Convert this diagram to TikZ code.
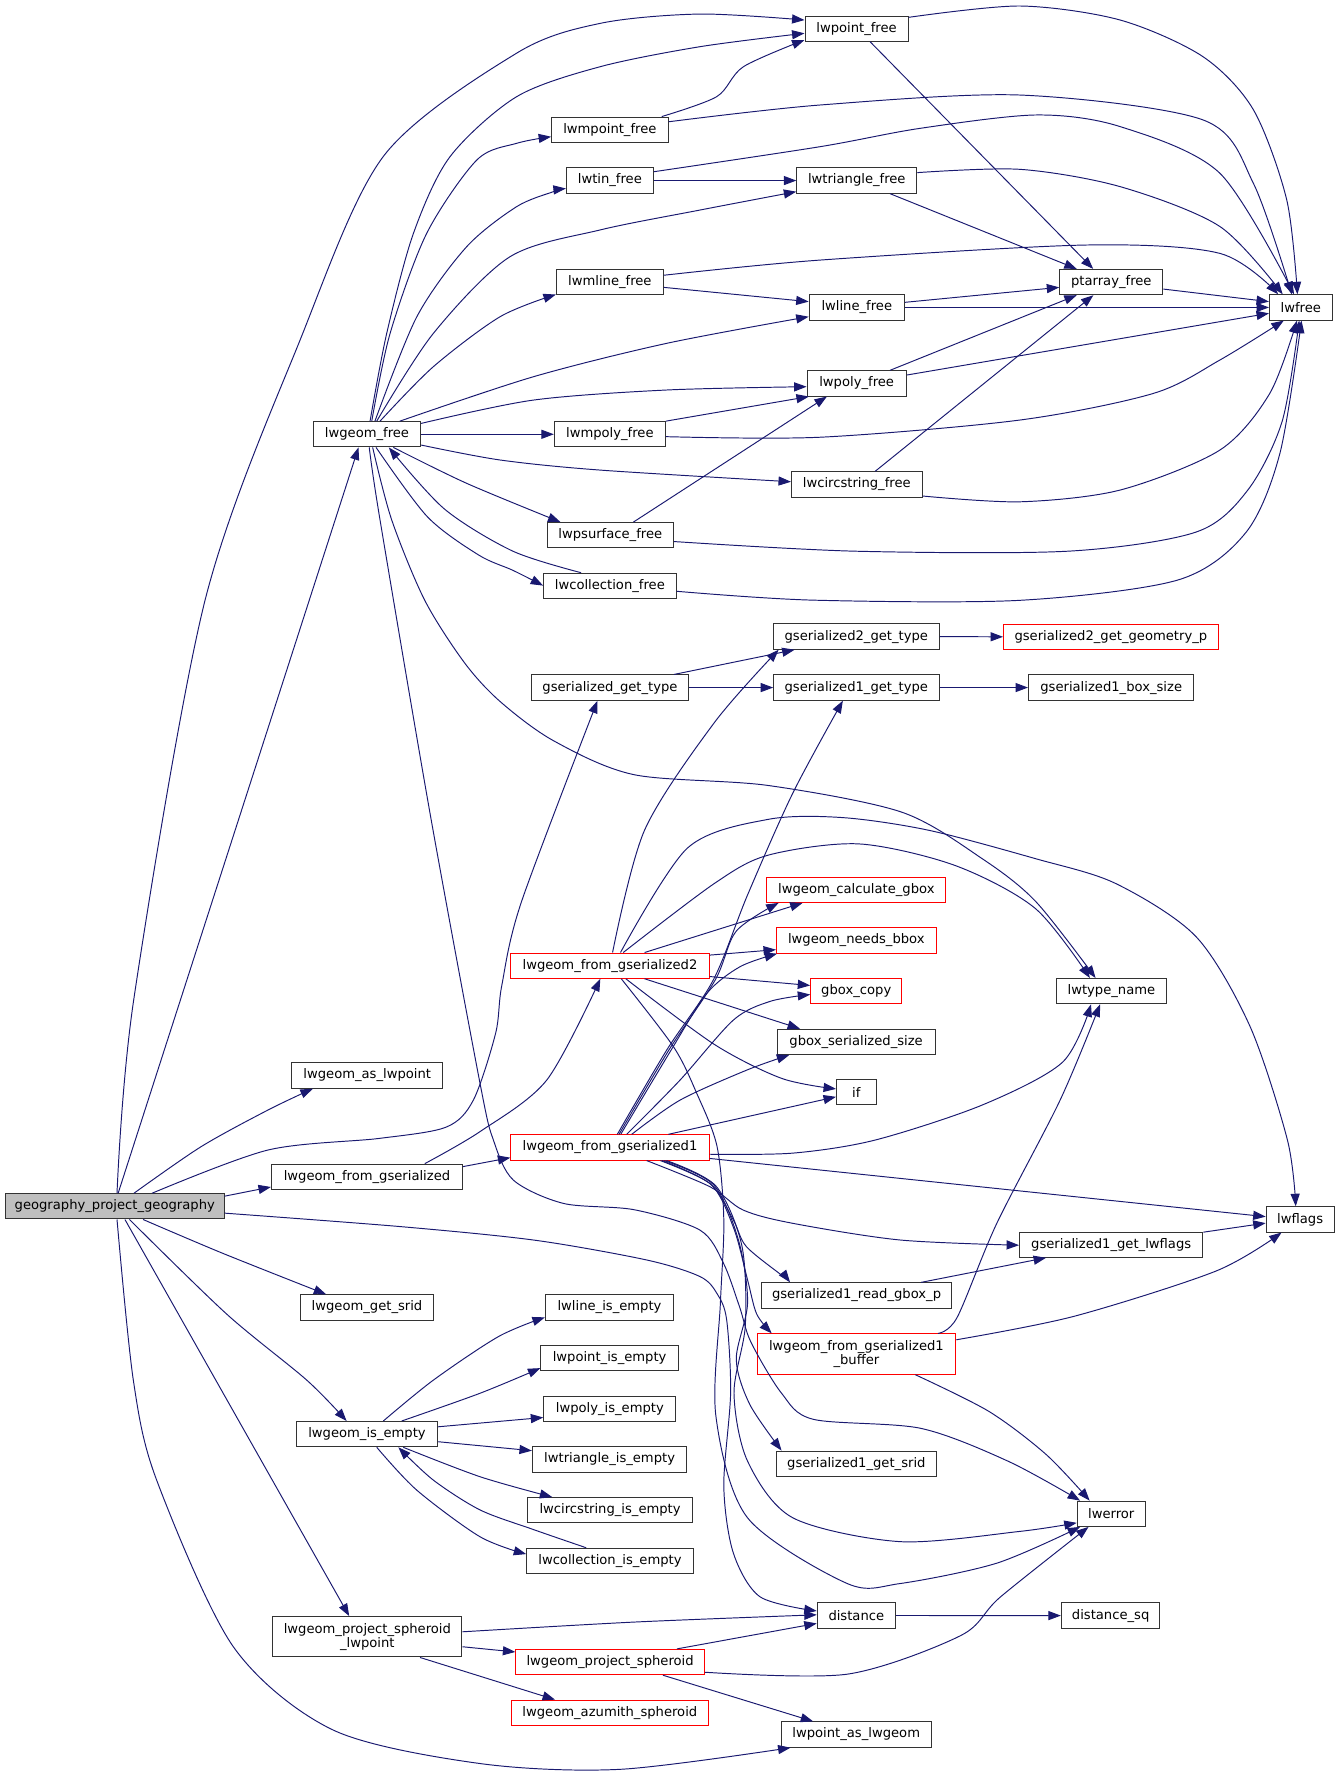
\documentclass[tikz,border=0pt]{standalone}
\usepackage{fontspec}
\setmainfont{DejaVu Sans}
\usetikzlibrary{arrows.meta,calc}
\definecolor{navy}{HTML}{191970}
\definecolor{rootgray}{HTML}{BFBFBF}
\definecolor{boxline}{HTML}{333333}
\begin{document}
\begin{tikzpicture}[x=1pt,y=-1pt,
 box/.style={draw=boxline,line width=0.9pt,fill=white,inner sep=0pt,minimum height=22.3pt,align=center,font=\fontsize{11.6}{12.7}\selectfont},
 rbox/.style={box,draw=red},
 tall/.style={minimum height=35.6pt},
 edge/.style={draw=navy,line width=0.85pt,-{Triangle[length=11pt,width=8pt]}}]
\useasboundingbox (0,0) rectangle (1183,1568.8);
\fill[white] (0,0) rectangle (1183,1568.8);
% nodes
\node[box,fill=rootgray,minimum width=193.2pt] (gpg) at (101.3,1065) {geography\_project\_geography};
\node[box,minimum width=94.8pt] (lgf) at (324,383.4) {lwgeom\_free};
\node[box,minimum width=91pt] (lpf) at (756.2,25.3) {lwpoint\_free};
\node[box,minimum width=102.8pt] (lmpf) at (538.4,114.5) {lwmpoint\_free};
\node[box,minimum width=76.8pt] (ltf) at (538.4,159.4) {lwtin\_free};
\node[box,minimum width=105.9pt] (ltrf) at (756.4,159.4) {lwtriangle\_free};
\node[box,minimum width=94.4pt] (lmlf) at (538.4,249) {lwmline\_free};
\node[box,minimum width=84.1pt] (llf) at (756.4,271.4) {lwline\_free};
\node[box,minimum width=91pt] (ptf) at (981.1,249) {ptarray\_free};
\node[box,minimum width=55.3pt] (lwf) at (1148.4,271.4) {lwfree};
\node[box,minimum width=87.5pt] (lpof) at (756.3,338.5) {lwpoly\_free};
\node[box,minimum width=98pt] (lmpof) at (538.4,383.4) {lwmpoly\_free};
\node[box,minimum width=115.3pt] (lcf) at (756.4,427.7) {lwcircstring\_free};
\node[box,minimum width=111.6pt] (lpsf) at (538.8,472.5) {lwpsurface\_free};
\node[box,minimum width=116.9pt] (lcolf) at (538.4,517.2) {lwcollection\_free};
\node[box,minimum width=146pt] (g2gt) at (756,562) {gserialized2\_get\_type};
\node[rbox,minimum width=189.5pt] (g2gg) at (980.7,562.2) {gserialized2\_get\_geometry\_p};
\node[box,minimum width=139pt] (ggt) at (538.5,607) {gserialized\_get\_type};
\node[box,minimum width=146pt] (g1gt) at (756,607) {gserialized1\_get\_type};
\node[box,minimum width=146pt] (g1bs) at (981,607) {gserialized1\_box\_size};
\node[rbox,minimum width=158pt] (lcg) at (756,785.5) {lwgeom\_calculate\_gbox};
\node[rbox,minimum width=141pt] (lnb) at (756,830.3) {lwgeom\_needs\_bbox};
\node[rbox,minimum width=175pt] (lfg2) at (538.5,852.5) {lwgeom\_from\_gserialized2};
\node[rbox,minimum width=80.3pt] (gbc) at (755.9,875) {gbox\_copy};
\node[box,minimum width=97.6pt] (ltn) at (981.2,875) {lwtype\_name};
\node[box,minimum width=139.6pt] (gbss) at (755.8,919.8) {gbox\_serialized\_size};
\node[box,minimum width=133.6pt] (lal) at (324.2,949.5) {lwgeom\_as\_lwpoint};
\node[box,minimum width=35pt] (ifn) at (756,964.3) {if};
\node[rbox,minimum width=175pt] (lfg1) at (538.5,1013) {lwgeom\_from\_gserialized1};
\node[box,minimum width=168.7pt] (lfg) at (324,1038.9) {lwgeom\_from\_gserialized};
\node[box,minimum width=60pt] (lwfl) at (1147.8,1076.5) {lwflags};
\node[box,minimum width=161.8pt] (g1gl) at (981,1098.8) {gserialized1\_get\_lwflags};
\node[box,minimum width=168.3pt] (g1rg) at (756.2,1143.7) {gserialized1\_read\_gbox\_p};
\node[box,minimum width=117.5pt] (lgs) at (324,1154.3) {lwgeom\_get\_srid};
\node[box,minimum width=113.2pt] (llie) at (538.1,1154.2) {lwline\_is\_empty};
\node[rbox,tall,minimum width=175.4pt] (lfgb) at (756.1,1195.4) {lwgeom\_from\_gserialized1\\\_buffer};
\node[box,minimum width=121.3pt] (lpie) at (538.2,1198.8) {lwpoint\_is\_empty};
\node[box,minimum width=116.7pt] (lpoie) at (538.4,1243.8) {lwpoly\_is\_empty};
\node[box,minimum width=124.8pt] (lgie) at (324,1266.1) {lwgeom\_is\_empty};
\node[box,minimum width=136.3pt] (ltie) at (538.2,1288.4) {lwtriangle\_is\_empty};
\node[box,minimum width=141.3pt] (g1gs) at (756,1292.2) {gserialized1\_get\_srid};
\node[box,minimum width=145.2pt] (lcie) at (538.6,1333.3) {lwcircstring\_is\_empty};
\node[box,minimum width=60pt] (lwe) at (981,1336.4) {lwerror};
\node[box,minimum width=147pt] (lcoie) at (538.5,1378) {lwcollection\_is\_empty};
\node[box,tall,minimum width=167.1pt] (lpsl) at (324.3,1445) {lwgeom\_project\_spheroid\\\_lwpoint};
\node[box,minimum width=69pt] (dist) at (756,1426.2) {distance};
\node[box,minimum width=87pt] (dsq) at (980.5,1426.3) {distance\_sq};
\node[rbox,minimum width=166.4pt] (lps) at (538.6,1467.3) {lwgeom\_project\_spheroid};
\node[rbox,minimum width=174pt] (las) at (538.4,1512.1) {lwgeom\_azumith\_spheroid};
\node[box,minimum width=132.7pt] (lpal) at (755.9,1531.3) {lwpoint\_as\_lwgeom};
% edges from geography_project_geography
\draw[edge] plot[smooth] coordinates {($(gpg.north)+(2,0)$) (118,883) (181,530) (265,300) (338.5,138) (456,47) (530,20.6) (618,12.4) ($(lpf.west)+(0,-7.6)$)};
\draw[edge] ($(gpg.north)+(3,0)$) -- ($(lgf.south)+(-7.5,0)$);
\draw[edge] plot[smooth] coordinates {($(gpg.north)+(17,0)$) (177.4,1012.4) (236.5,980) ($(lal.south)+(-48,0)$)};
\draw[edge] plot[smooth] coordinates {($(gpg.north)+(33,0)$) (236.5,1015.3) (335,1005) (394,995) (418,971) (437.6,912) (443,870) (460.4,796) ($(ggt.south)+(-11,0)$)};
\draw[edge] ($(gpg.east)+(0,-9)$) -- ($(lfg.west)+(0,9)$);
\draw[edge] plot[smooth] coordinates {($(gpg.south)+(25,0)$) (197,1106.6) ($(lgs.north)+(-36,0)$)};
\draw[edge] plot[smooth] coordinates {($(gpg.east)+(0,6)$) (355,1083) (473,1095) (571.6,1112.5) (618,1127) (633,1142) (641.5,1165) (645,1230) (639,1312) (647.4,1371) (671,1409.7) ($(dist.west)+(0,-4)$)};
\draw[edge] plot[smooth] coordinates {($(gpg.south)+(13,0)$) (200,1160) (270.8,1218.4) ($(lgie.north)+(-18,0)$)};
\draw[edge] ($(gpg.south)+(9,0)$) -- ($(lpsl.north)+(-16,0)$);
\draw[edge] plot[smooth] coordinates {($(gpg.south)+(2,0)$) (117.7,1218.4) (138.3,1306.7) (206,1453.8) (294.3,1527.4) (423.8,1556.9) (547.6,1562) ($(lpal.south)+(-58,0)$)};
% edges from lwgeom_free
\draw[edge] plot[smooth] coordinates {($(lgf.north)+(2.7,0)$) (341.4,294.3) (365,206) (397.3,138.3) (456.2,85.3) (529.8,58.9) (618.1,41.2) ($(lpf.west)+(0,4.1)$)};
\draw[edge] plot[smooth] coordinates {($(lgf.north)+(4.2,0)$) (344.4,294.3) (376.7,206) (420.9,141.3) (456.2,126.5) ($(lmpf.west)+(0,6.2)$)};
\draw[edge] plot[smooth] coordinates {($(lgf.north)+(7,0)$) (368,279.6) (412,217.8) (456,182.5) (488.6,169.2) ($(ltf.west)+(0,7)$)};
\draw[edge] plot[smooth] coordinates {($(lgf.north)+(8.6,0)$) (382.6,294.3) (450.3,226.6) (529.8,203) (618.1,185.4) ($(ltrf.west)+(0,9.8)$)};
\draw[edge] plot[smooth] coordinates {($(lgf.north)+(11.5,0)$) (382.6,323.7) (441.5,279.6) ($(lmlf.west)+(0,11)$)};
\draw[edge] plot[smooth] coordinates {($(lgf.north)+(29,0)$) (470.9,332.6) (588.6,303.1) ($(llf.west)+(0,8.2)$)};
\draw[edge] plot[smooth] coordinates {($(lgf.east)+(0,-9.6)$) (470.9,353.2) (588.6,344.3) ($(lpof.west)+(0,2.9)$)};
\draw[edge] (lgf.east) -- (lmpof.west);
\draw[edge] plot[smooth] coordinates {($(lgf.east)+(0,9.5)$) (441.5,406.1) (529.8,415) ($(lcf.west)+(0,-2.4)$)};
\draw[edge] plot[smooth] coordinates {($(lgf.south)+(23.3,0)$) (412,426.7) ($(lpsf.north)+(-44,0)$)};
\draw[edge] plot[smooth] coordinates {($(lgf.south)+(8,0)$) (377.3,456.2) (422.6,490) (452.8,503.5) ($(lcolf.west)+(0,-0.2)$)};
\draw[edge] plot[smooth] coordinates {($(lcolf.north)+(-25.4,0)$) (452.8,486.6) (392.4,449.4) ($(lgf.south)+(19.3,0)$)};
\draw[edge] plot[smooth] coordinates {($(lgf.south)+(5,0)$) (345.8,459) (375,530) (410,585) (441.5,619.3) (488.8,654) (559.7,683.9) (677.9,693.4) (796.1,717) (867,758) (914.4,795.9) ($(ltn.north)+(-14,0)$)};
\draw[edge] plot[smooth] coordinates {($(lgf.south)+(2,0)$) (335.5,459) (380,720) (423.8,956.5) (435.6,1006.5) (453.2,1041.8) (497.4,1062.4) (560,1068) (618,1086) (638.6,1115) (653,1154) (663,1185) (690,1230) (718,1253) (813,1261) (890,1290) ($(lwe.north west)+(3,0)$)};
% top group
\draw[edge] plot[smooth] coordinates {($(lmpf.north)+(45.8,0)$) (632.8,85.3) (656.3,58.9) ($(lpf.west)+(0,10)$)};
\draw[edge] plot[smooth] coordinates {($(lmpf.east)+(0,-7)$) (724,92.7) (900.6,83.9) (1062.4,106) (1106.6,162) ($(lwf.north)+(-8,0)$)};
\draw[edge] (ltf.east) -- (ltrf.west);
\draw[edge] plot[smooth] coordinates {($(ltf.east)+(0,-7.8)$) (724,129.5) (812.3,113.3) (915.3,101.5) (989,111.8) (1077,153) ($(lwf.north)+(-6,0)$)};
\draw[edge] plot[smooth] coordinates {($(ltrf.east)+(0,-7)$) (900.6,149.5) (989,164.8) (1077,200) ($(lwf.north)+(-16,0)$)};
\draw[edge] plot[smooth] coordinates {($(lpf.east)+(0,-10)$) (900.6,5.3) (989,17.7) (1062,50) (1106.6,97) (1136,176.6) ($(lwf.north)+(-3,0)$)};
\draw[edge] ($(lpf.south)+(12,0)$) -- ($(ptf.north)+(-16,0)$);
\draw[edge] ($(ltrf.south)+(29.4,0)$) -- ($(ptf.north)+(-30.5,0)$);
\draw[edge] plot[smooth] coordinates {($(lmlf.east)+(0,-6)$) (724,229.6) (959.4,216.3) (1077,223.7) ($(lwf.north)+(-20,0)$)};
\draw[edge] ($(lmlf.east)+(0,4.7)$) -- ($(llf.west)+(0,-5.1)$);
\draw[edge] ($(llf.east)+(0,-4.5)$) -- ($(ptf.west)+(0,4.7)$);
\draw[edge] (llf.east) -- (lwf.west);
\draw[edge] ($(ptf.east)+(0,6.2)$) -- ($(lwf.west)+(0,-5.1)$);
\draw[edge] ($(lpof.north)+(29.5,0)$) -- ($(ptf.south)+(-30.5,0)$);
\draw[edge] ($(lpof.east)+(0,-7.4)$) -- ($(lwf.west)+(0,5.2)$);
\draw[edge] (lmpof.north east) -- ($(lpof.south west)+(2,0)$);
\draw[edge] plot[smooth] coordinates {($(lmpof.east)+(0,2.1)$) (724,386) (900.6,370.8) (1018.3,347.3) (1077,317.8) ($(lwf.south)+(-15,0)$)};
\draw[edge] ($(lcf.north)+(16.2,0)$) -- ($(ptf.south)+(-15.8,0)$);
\draw[edge] plot[smooth] coordinates {($(lcf.east)+(0,10.2)$) (900.6,443) (989,432.6) (1077,397.3) (1121,347.3) ($(lwf.south)+(-3.4,0)$)};
\draw[edge] ($(lpsf.north)+(20.4,0)$) -- ($(lpof.south)+(-26.3,0)$);
\draw[edge] plot[smooth] coordinates {($(lpsf.east)+(0,5.6)$) (754.6,486.6) (943,486.6) (1056,469.7) (1101.7,432.5) (1132,371.7) ($(lwf.south)+(-1.4,0)$)};
\draw[edge] plot[smooth] coordinates {($(lcolf.east)+(0,4.8)$) (716.9,529.8) (900,530) (1040,512) (1100,470) (1130,400) ($(lwf.south)+(0.6,0)$)};
% middle group
\draw[edge] ($(ggt.north)+(56.6,0)$) -- ($(g2gt.south)+(-54.5,0)$);
\draw[edge] (ggt.east) -- (g1gt.west);
\draw[edge] (g2gt.east) -- (g2gg.west);
\draw[edge] (g1gt.east) -- (g1bs.west);
\draw[edge] plot[smooth] coordinates {($(lfg.north)+(51,0)$) (423.8,999) (482.7,953.5) ($(lfg2.south)+(-8.5,0)$)};
\draw[edge] ($(lfg.east)+(0,-9)$) -- ($(lfg1.west)+(0,9)$);
\draw[edge] plot[smooth] coordinates {($(lfg2.north)+(2.3,0)$) (569,733) (630.6,638) ($(g2gt.south)+(-68.6,0)$)};
\draw[edge] plot[smooth] coordinates {($(lfg2.north)+(9.3,0)$) (607,748.6) (677.9,723.4) (744,721.8) (820,733) (914,758) (985,780) (1056,827) (1103.5,906) (1136.6,1006.5) ($(lwfl.north)+(-3.9,0)$)};
\draw[edge] plot[smooth] coordinates {($(lfg2.north)+(11.7,0)$) (630.6,780) (678,755) (758,745) (843,764) (914,802) ($(ltn.north)+(-19,0)$)};
\draw[edge] ($(lfg2.north)+(30.6,0)$) -- ($(lcg.south)+(-47.4,0)$);
\draw[edge] ($(lfg2.east)+(0,-9.3)$) -- ($(lnb.west)+(0,8.1)$);
\draw[edge] ($(lfg2.east)+(0,9.6)$) -- ($(gbc.west)+(0,-5)$);
\draw[edge] ($(lfg2.south)+(30.6,0)$) -- ($(gbss.north)+(-49.5,0)$);
\draw[edge] plot[smooth] coordinates {($(lfg2.south)+(14,0)$) (630.6,922) (690,952) ($(ifn.west)+(0,-3)$)};
\draw[edge] plot[smooth] coordinates {($(lfg2.south)+(10,0)$) (594.5,924) (615,965) (633,1012) (639,1077) (636,1150) (632,1250) (660,1340) (748,1398) (794.6,1398) (880,1380) ($(lwe.south west)+(3,0)$)};
\draw[edge] plot[smooth] coordinates {($(lfg1.north)+(6.5,0)$) (588.6,927) (629.8,865) (660,790) (700,700) ($(g1gt.south)+(-11.9,0)$)};
\draw[edge] plot[smooth] coordinates {($(lfg1.north)+(8,0)$) (590.5,927) (631.5,865) (650,822) ($(lcg.south)+(-68.6,0)$)};
\draw[edge] plot[smooth] coordinates {($(lfg1.north)+(9.5,0)$) (592.5,927) (624,877) (653.4,853.4) ($(lnb.south west)+(1,0)$)};
\draw[edge] plot[smooth] coordinates {($(lfg1.north)+(14.8,0)$) (600.4,953.5) (647.5,900.5) (680,884) ($(gbc.west)+(0,3)$)};
\draw[edge] plot[smooth] coordinates {($(lfg1.north)+(19.2,0)$) (600.4,971.2) (659.3,944.7) ($(gbss.south)+(-59,0)$)};
\draw[edge] ($(lfg1.north)+(51.6,0)$) -- ($(ifn.west)+(0,4)$);
\draw[edge] plot[smooth] coordinates {($(lfg1.east)+(0,6)$) (700,1018) (772.5,1006.5) (867,975.6) (938,937.8) ($(ltn.south)+(-18,0)$)};
\draw[edge] ($(lfg1.east)+(0,9.7)$) -- ($(lwfl.west)+(0,-2.4)$);
\draw[edge] plot[smooth] coordinates {($(lfg1.south)+(32.4,0)$) (626.8,1047.7) (656.2,1068.3) (700,1080) (794.6,1094.7) ($(g1gl.west)+(0,0.5)$)};
\draw[edge] plot[smooth] coordinates {($(lfg1.south)+(44.5,0)$) (627,1045) (647.4,1077) (659,1100.6) (691.6,1127) ($(g1rg.north)+(-58.7,0)$)};
\draw[edge] plot[smooth] coordinates {($(lfg1.south)+(46,0)$) (628,1046) (648,1085) (660,1130) (668,1160) ($(lfgb.north)+(-74.8,0)$)};
\draw[edge] plot[smooth] coordinates {($(lfg1.south)+(48,0)$) (630,1046) (652,1095) (660,1150) (650,1200) (662,1240) ($(g1gs.north)+(-66,0)$)};
\draw[edge] plot[smooth] coordinates {($(lfg1.south)+(50,0)$) (632,1047) (655,1100) (658,1170) (648,1230) (660,1290) (700,1340) (794.6,1361) (900,1352) ($(lwe.west)+(0,8)$)};
\draw[edge] ($(g1rg.north)+(57,0)$) -- ($(g1gl.south)+(-57.5,0)$);
\draw[edge] ($(g1gl.east)+(0,-11)$) -- ($(lwfl.west)+(0,3.3)$);
\draw[edge] plot[smooth] coordinates {($(lfgb.east)+(0,-12.6)$) (948.5,1162) (1073.8,1122) ($(lwfl.south)+(-16.4,0)$)};
\draw[edge] plot[smooth] coordinates {($(lfgb.south)+(52,0)$) (873,1246) (923.5,1284) ($(lwe.north)+(-19,0)$)};
\draw[edge] plot[smooth] coordinates {($(lfgb.north)+(72,0)$) (845,1163) (880,1080) (936,971) ($(ltn.south)+(-10,0)$)};
% lwgeom_is_empty group
\draw[edge] plot[smooth] coordinates {($(lgie.north)+(14.4,0)$) (382.6,1218.4) (440,1180) ($(llie.west)+(0,8.8)$)};
\draw[edge] plot[smooth] coordinates {($(lgie.north)+(30.6,0)$) (423.8,1230) ($(lpie.west)+(0,9)$)};
\draw[edge] ($(lgie.east)+(0,-6.5)$) -- ($(lpoie.west)+(0,7.6)$);
\draw[edge] ($(lgie.east)+(0,6.7)$) -- ($(ltie.west)+(0,-7.7)$);
\draw[edge] plot[smooth] coordinates {($(lgie.south)+(32,0)$) (423.8,1303.7) ($(lcie.north)+(-51,0)$)};
\draw[edge] plot[smooth] coordinates {($(lgie.south)+(8.6,0)$) (367.9,1315.5) (423.8,1356.7) ($(lcoie.west)+(0,-6)$)};
\draw[edge] plot[smooth] coordinates {($(lcoie.north)+(-21,0)$) (470,1350) (423.8,1333) (382.6,1306.7) ($(lgie.south)+(27.7,0)$)};
% bottom group
\draw[edge] plot[smooth] coordinates {($(lpsl.east)+(0,-4.4)$) (560,1432) ($(dist.west)+(0,-0.6)$)};
\draw[edge] ($(lpsl.east)+(0,8.8)$) -- ($(lps.west)+(0,-8.9)$);
\draw[edge] ($(lpsl.south)+(46.5,0)$) -- ($(las.north)+(-48.4,0)$);
\draw[edge] ($(lps.north)+(59,0)$) -- ($(dist.west)+(0,7)$);
\draw[edge] plot[smooth] coordinates {($(lps.east)+(0,9)$) (748,1478) (848,1444) (883,1410) ($(lwe.south)+(-20,0)$)};
\draw[edge] ($(lps.south)+(46.6,0)$) -- ($(lpal.north)+(-38,0)$);
\draw[edge] (dist.east) -- (dsq.west);
\end{tikzpicture}
\end{document}
